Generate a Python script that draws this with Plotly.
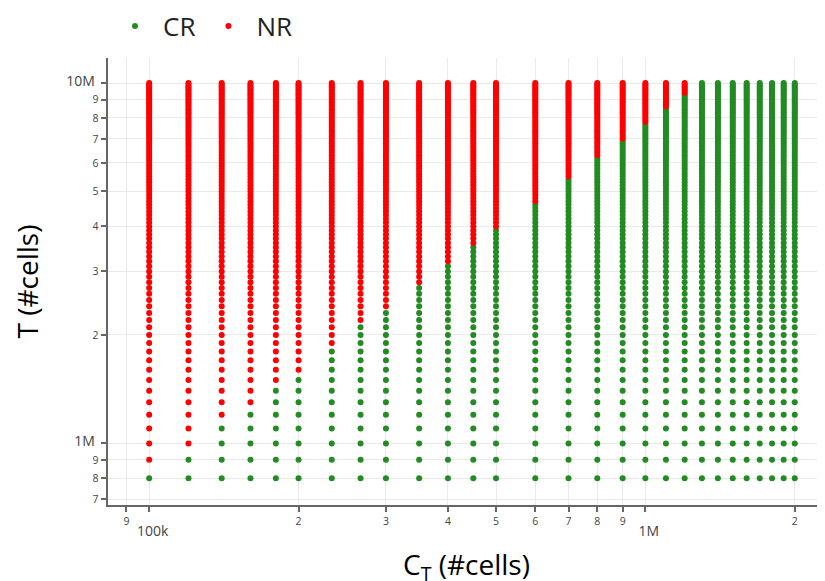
import plotly.graph_objects as go

# Column values of C_T (cells)
C_T = [100000, 120000, 140000, 160000, 180000, 200000, 233333, 266667,
       300000, 350000, 400000, 450000, 500000, 600000, 700000, 800000,
       900000, 1000000, 1100000, 1200000, 1300000, 1400000, 1500000,
       1600000, 1700000, 1800000, 1900000, 2000000]

# Largest T (cells) that is still classified CR in each column
CR_MAX_T = [800000, 900000, 1100000, 1200000, 1400000, 1500000, 1800000,
            2100000, 2300000, 2700000, 3100000, 3500000, 3900000, 4600000,
            5400000, 6200000, 6900000, 7700000, 8500000, 9300000, 10000000,
            10000000, 10000000, 10000000, 10000000, 10000000, 10000000,
            10000000]

# Grid of T values (cells)
T_VALUES = [800000, 900000, 1000000, 1100000, 1200000, 1300000, 1400000,
            1500000, 1600000, 1700000, 1800000, 1900000, 2000000, 2100000,
            2200000, 2300000, 2400000, 2500000, 2600000, 2700000, 2800000,
            2900000, 3000000, 3100000, 3200000, 3300000, 3400000, 3500000,
            3600000, 3700000, 3800000, 3900000, 4000000, 4100000, 4200000,
            4300000, 4400000, 4500000, 4600000, 4700000, 4800000, 4900000,
            5000000, 5100000, 5200000, 5300000, 5400000, 5500000, 5600000,
            5700000, 5800000, 5900000, 6000000, 6100000, 6200000, 6300000,
            6400000, 6500000, 6600000, 6700000, 6800000, 6900000, 7000000,
            7100000, 7200000, 7300000, 7400000, 7500000, 7600000, 7700000,
            7800000, 7900000, 8000000, 8100000, 8200000, 8300000, 8400000,
            8500000, 8600000, 8700000, 8800000, 8900000, 9000000, 9100000,
            9200000, 9300000, 9400000, 9500000, 9600000, 9700000, 9800000,
            9900000, 10000000]

cr_x, cr_y, nr_x, nr_y = [], [], [], []
for c, tmax in zip(C_T, CR_MAX_T):
    for t in T_VALUES:
        if t <= tmax:
            cr_x.append(c); cr_y.append(t)
        else:
            nr_x.append(c); nr_y.append(t)

fig = go.Figure()
fig.add_trace(go.Scatter(x=cr_x, y=cr_y, mode="markers", name="CR",
                         marker=dict(color="forestgreen", size=6)))
fig.add_trace(go.Scatter(x=nr_x, y=nr_y, mode="markers", name="NR",
                         marker=dict(color="red", size=6)))

axis_common = dict(
    type="log", dtick="D1", showline=True, linecolor="#666", linewidth=1.5,
    ticks="outside", ticklen=5, tickcolor="#666", tickwidth=1.5,
    showgrid=True, gridcolor="#eaeaea", gridwidth=1, zeroline=False,
    tickfont=dict(family="Open Sans", size=14, color="#444"),
    mirror=False, automargin=False,
)

fig.update_xaxes(**axis_common, range=[4.917, 6.362],
                 title=dict(text="C<sub>T</sub> (#cells)",
                            font=dict(family="Open Sans", size=28, color="#000"),
                            standoff=17))
fig.update_yaxes(**axis_common, range=[5.829, 7.0694],
                 title=dict(text="T (#cells)",
                            font=dict(family="Open Sans", size=28, color="#000"),
                            standoff=25))

fig.update_layout(
    width=825, height=581,
    margin=dict(l=100, r=8, t=50, b=84),
    plot_bgcolor="white", paper_bgcolor="white",
    font=dict(family="Open Sans", color="#444"),
    legend=dict(orientation="h", x=0.12, xref="container", xanchor="left",
                y=1 - 18 / 581, yref="container", yanchor="middle",
                itemwidth=46,
                font=dict(family="Open Sans", size=26, color="#222")),
)

fig.write_html("out.html")
